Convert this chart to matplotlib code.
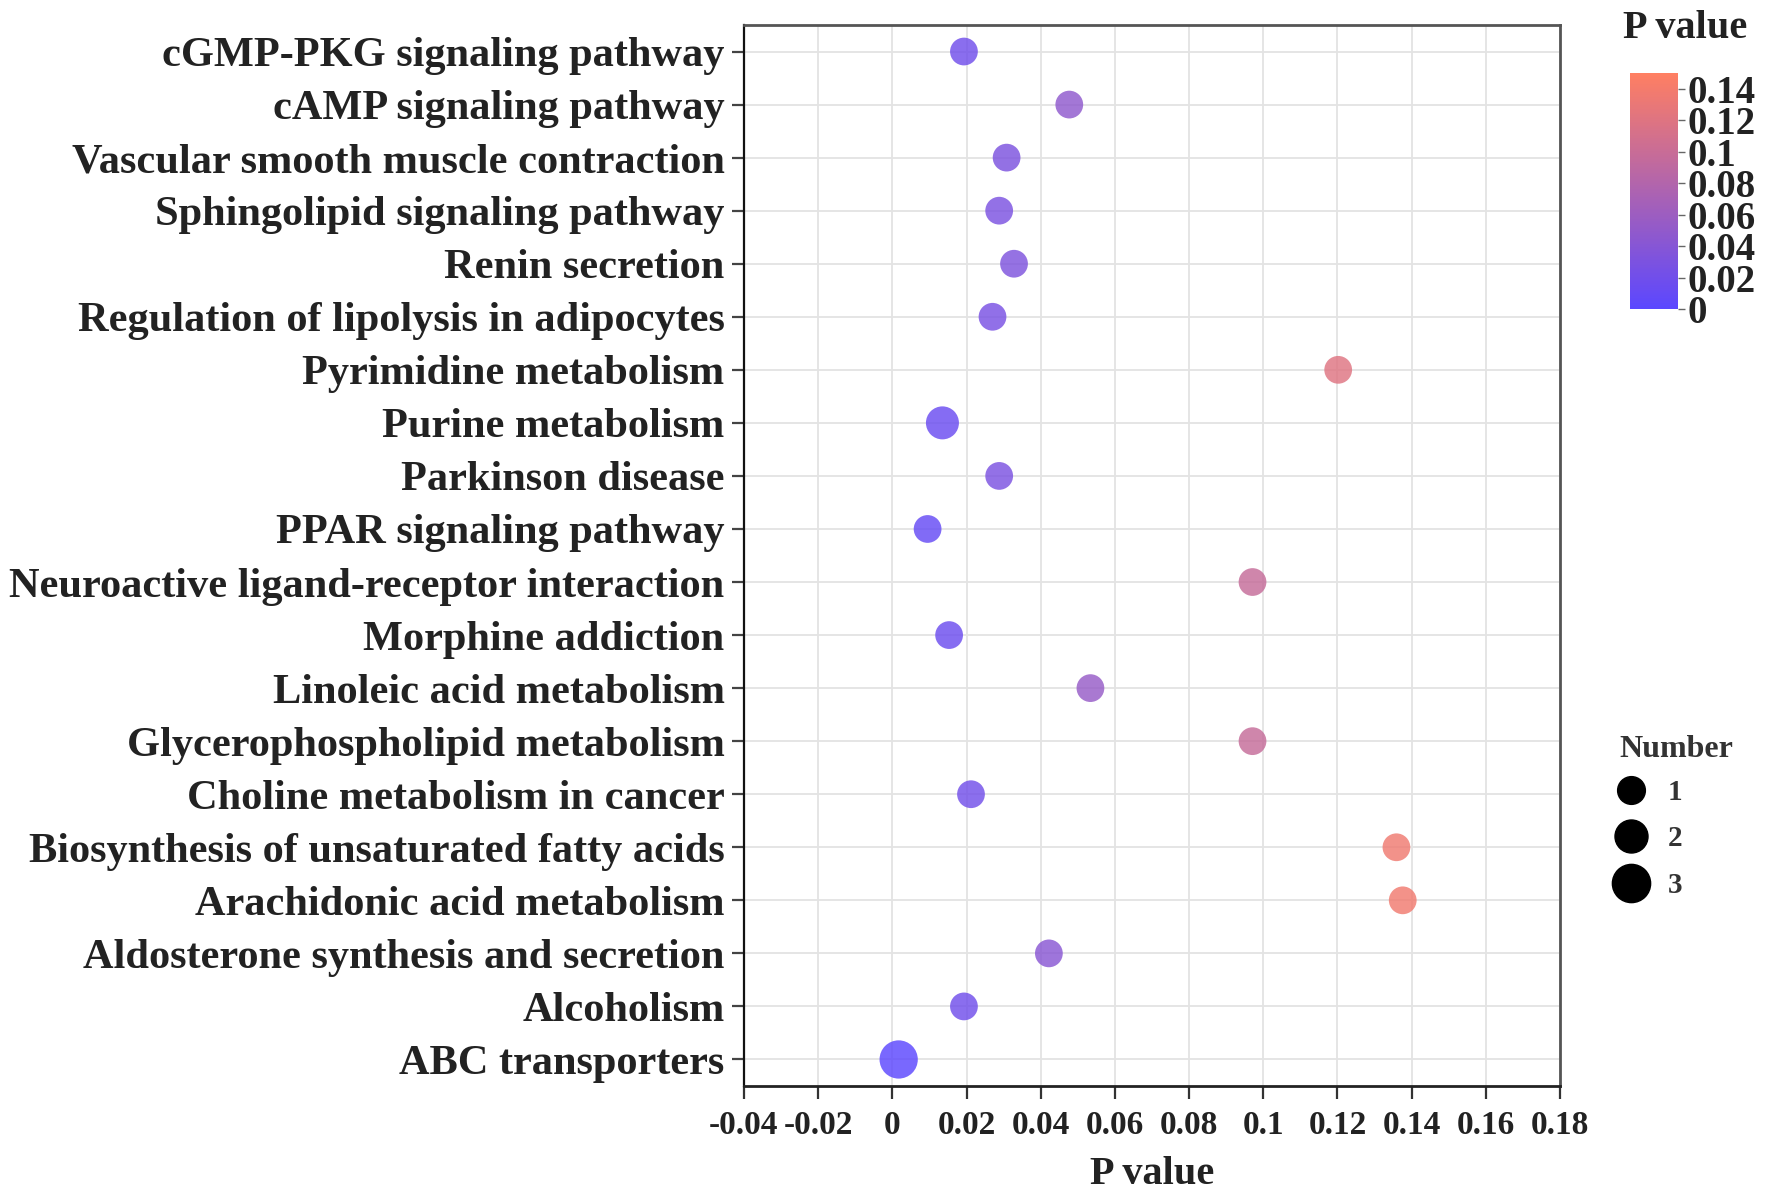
import matplotlib.pyplot as plt
import matplotlib.colors as mcolors
from matplotlib.lines import Line2D
import numpy as np

# pathways listed bottom -> top as they appear on the y axis
pathways = [
    'ABC transporters', 'Alcoholism', 'Aldosterone synthesis and secretion',
    'Arachidonic acid metabolism', 'Biosynthesis of unsaturated fatty acids',
    'Choline metabolism in cancer', 'Glycerophospholipid metabolism',
    'Linoleic acid metabolism', 'Morphine addiction',
    'Neuroactive ligand-receptor interaction', 'PPAR signaling pathway',
    'Parkinson disease', 'Purine metabolism', 'Pyrimidine metabolism',
    'Regulation of lipolysis in adipocytes', 'Renin secretion',
    'Sphingolipid signaling pathway', 'Vascular smooth muscle contraction',
    'cAMP signaling pathway', 'cGMP-PKG signaling pathway',
]
p_values = [0.0017, 0.0193, 0.0422, 0.1376, 0.1359, 0.0212, 0.0971, 0.0534,
            0.0153, 0.0971, 0.0095, 0.0288, 0.0135, 0.1202, 0.0270, 0.0328,
            0.0288, 0.0308, 0.0477, 0.0193]
counts = [3, 1, 1, 1, 1, 1, 1, 1, 1, 1, 1, 1, 2, 1, 1, 1, 1, 1, 1, 1]

x_ticks = [-0.04, -0.02, 0, 0.02, 0.04, 0.06, 0.08, 0.1, 0.12, 0.14, 0.16, 0.18]
cbar_ticks = [0, 0.02, 0.04, 0.06, 0.08, 0.1, 0.12, 0.14]
legend_counts = [1, 2, 3]

plt.rcParams['font.family'] = ['Liberation Serif', 'DejaVu Serif']
plt.rcParams['font.weight'] = 'bold'


def fmt(v):
    s = ('%.2f' % v).rstrip('0').rstrip('.')
    return '0' if s in ('-0', '') else s


def marker_diam(n):
    # marker diameter in points for a given count
    return 0.72 * (22.5 + 5.25 * n)


cmap = mcolors.LinearSegmentedColormap.from_list('pv', ['#5B47FF', '#FF7F62'])
norm = mcolors.Normalize(vmin=0, vmax=0.15)

fig = plt.figure(figsize=(17.72, 11.92), dpi=100)
ax = fig.add_axes([744 / 1772, 1 - 1086 / 1192, 816 / 1772, 1061 / 1192])

y = np.arange(len(pathways))
sizes = [marker_diam(c) ** 2 for c in counts]
ax.scatter(p_values, y, s=sizes, c=p_values, cmap=cmap, norm=norm,
           alpha=0.82, edgecolors='none', zorder=3)

ax.set_xlim(-0.04, 0.18)
ax.set_ylim(-0.5, len(pathways) - 0.5)
ax.set_xticks(x_ticks)
ax.set_xticklabels([fmt(v) for v in x_ticks], fontsize=24, fontweight='bold')
ax.set_yticks(y)
ax.set_yticklabels(pathways, fontsize=30.5, fontweight='bold', color='#222222')
ax.tick_params(axis='y', length=9, width=1.6, color='#444444', pad=5)
ax.tick_params(axis='x', length=9, width=1.6, color='#333333', pad=8,
               labelcolor='#222222')
ax.grid(True, color='#e3e3e3', linewidth=1.3, zorder=0)
ax.set_axisbelow(True)
for side in ('top', 'right'):
    ax.spines[side].set_color('#555555')
    ax.spines[side].set_linewidth(2)
ax.spines['left'].set_color('#111111')
ax.spines['left'].set_linewidth(1.6)
ax.spines['bottom'].set_color('#222222')
ax.spines['bottom'].set_linewidth(2)
ax.set_xlabel('P value', fontsize=29, fontweight='bold', color='#222222',
              labelpad=11)

# colour bar
cax = fig.add_axes([1630 / 1772, 1 - 309 / 1192, 48 / 1772, 236 / 1192])
sm = plt.cm.ScalarMappable(norm=norm, cmap=cmap)
cb = fig.colorbar(sm, cax=cax, ticks=cbar_ticks)
cb.outline.set_visible(False)
cb.ax.set_yticklabels([fmt(v) for v in cbar_ticks], fontsize=28,
                      fontweight='bold', color='#222222')
cb.ax.tick_params(length=5, width=1, color='#666666', pad=2)
fig.text(1685 / 1772, 1 - 28 / 1192, 'P value', fontsize=29, fontweight='bold',
         color='#222222', ha='center', va='center')

# size legend
handles = [Line2D([], [], marker='o', linestyle='none', color='black',
                  markersize=marker_diam(n), label=str(n)) for n in legend_counts]
leg = fig.legend(handles=handles, title='Number', loc='upper left',
                 bbox_to_anchor=(1605 / 1772, 1 - 720 / 1192), frameon=False,
                 fontsize=21, title_fontsize=23, labelspacing=0.67,
                 handletextpad=0.85, handlelength=0.8, borderpad=0)
leg._legend_box.align = 'left'
leg._legend_box.sep = 11
leg.get_title().set_fontweight('bold')
leg.get_title().set_color('#333333')
for t in leg.get_texts():
    t.set_color('#333333')

fig.savefig('out.png', dpi=100)
